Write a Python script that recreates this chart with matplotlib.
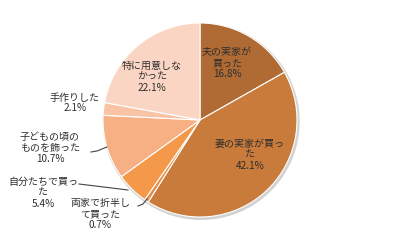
import matplotlib.pyplot as plt
from matplotlib.patches import Circle

plt.rcParams['font.family'] = ['Noto Sans CJK JP', 'DejaVu Sans']

# -----------------------------
# DATA
# -----------------------------
labels = ["夫の実家が\n買った", "妻の実家が買っ\nた", "両家で折半し\nて買った",
          "自分たちで買っ\nた", "子どもの頃の\nものを飾った", "手作りした", "特に用意しな\nかった"]
values = [16.8, 42.1, 0.7, 5.4, 10.7, 2.1, 22.1]
colors = ["#B06B34", "#C97B3B", "#E58C48", "#F4984A", "#F7AF84", "#F9C3A6", "#FAD5C3"]

# label positions in pixel coords (x from left, y from top)
label_pos = [(227, 63), (250, 155), (100, 214), (43, 193), (50, 148), (75, 103), (152, 77)]
# leader lines (pixel coords), None = no line
leaders = [None, None, [(138, 206), (143, 204), (147, 199)],
           [(79, 184), (128, 190)], [(91, 152), (97, 151), (107, 147)], None, None]

W, H = 400, 240
cx, cy, r = 200, 120, 97

fig = plt.figure(figsize=(4, 2.4), dpi=100)
ax = fig.add_axes([0, 0, 1, 1])

# soft shadow under the pie
ax.add_patch(Circle((cx + 1.2, cy - 1.5), r + 0.8, color="#D2D2D2", zorder=0))

ax.pie(values, colors=colors, startangle=90, counterclock=False,
       center=(cx, cy), radius=r, frame=True,
       wedgeprops=dict(edgecolor="white", linewidth=0.8))
ax.set_xlim(0, W)
ax.set_ylim(0, H)
ax.set_aspect('equal')
ax.axis('off')

for lab, v, (px, py), ld in zip(labels, values, label_pos, leaders):
    ax.text(px, H - py, f"{lab}\n{v:.1f}%", ha='center', va='center',
            fontsize=7.2, color="#2E2E2E", linespacing=1.1, zorder=5)
    if ld:
        xs = [p[0] for p in ld]
        ys = [H - p[1] for p in ld]
        ax.plot(xs, ys, color="#444444", lw=0.8, zorder=5)

plt.savefig("out.png", dpi=100)
